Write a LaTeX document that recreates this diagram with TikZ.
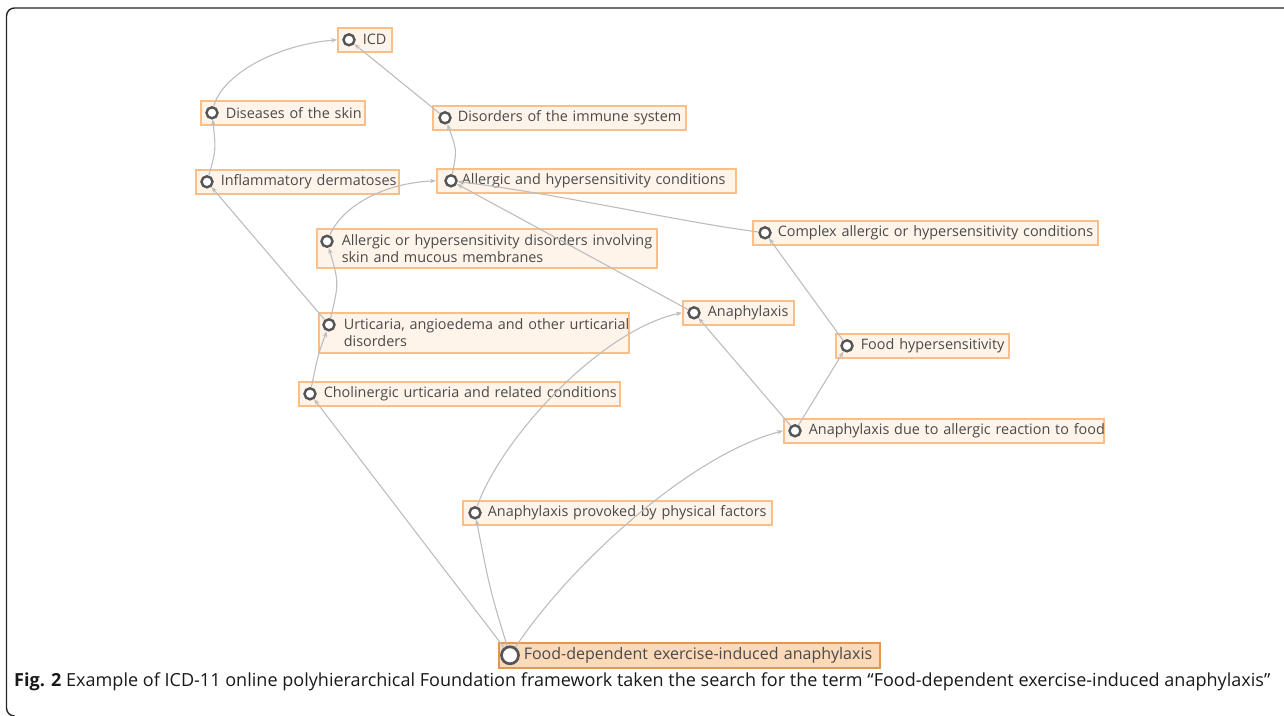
\documentclass[tikz,border=0pt]{standalone}
\usepackage{fontspec}
\setmainfont{Open Sans}
\usetikzlibrary{arrows.meta}
\definecolor{boxfill}{HTML}{FEF4EA}
\definecolor{boxdraw}{HTML}{FBBE86}
\definecolor{mainfill}{HTML}{FCD9B8}
\definecolor{maindraw}{HTML}{E4974E}
\definecolor{edgecol}{HTML}{BDBDBD}
\definecolor{ringcol}{HTML}{555555}
\definecolor{txt}{HTML}{4A4A4A}
\newcommand\boxline[1]{\hspace*{25pt}\mbox{#1}}
\begin{document}
\begin{tikzpicture}[x=1pt,y=-1pt,
  box/.style={draw=boxdraw, fill=boxfill, line width=1.6pt, anchor=north west,
    minimum height=24pt, inner xsep=0pt, inner ysep=2pt, align=left, text=txt,
    font=\fontsize{14.4}{17}\selectfont},
  mainbox/.style={box, draw=maindraw, fill=mainfill, minimum height=25pt,
    font=\fontsize{16}{19}\selectfont},
  ring/.style={circle, draw=ringcol, fill=white, line width=2.4pt, minimum size=11pt, inner sep=0pt},
  bigring/.style={ring, line width=2.7pt, minimum size=17pt},
  edge/.style={draw=edgecol, line width=1.1pt, -{Stealth[length=6pt,width=4.5pt]}},
  frame/.style={draw=black!85, line width=1.4pt, rounded corners=8pt}
]
\useasboundingbox (0,0) rectangle (1284,715);
\path[frame] (1290,8) -- (6.5,8) -- (6.5,716) -- (14.5,716);

% boxes
\node[box, text width=54pt]  (icd)  at (337,27)  {\boxline{ICD}};
\node[box, text width=164pt] (dis)  at (200,100) {\boxline{Diseases of the skin}};
\node[box, text width=253pt] (imm)  at (432,105) {\boxline{Disorders of the immune system}};
\node[box, text width=203pt] (infl) at (195,169) {\boxline{Inflammatory dermatoses}};
\node[box, text width=299pt] (allc) at (436,168) {\boxline{Allergic and hypersensitivity conditions}};
\node[box, text width=345pt] (cx)   at (752,220) {\boxline{Complex allergic or hypersensitivity conditions}};
\node[box, text width=340pt, minimum height=39pt] (smm) at (316,228)
  {\boxline{Allergic or hypersensitivity disorders involving}\\\boxline{skin and mucous membranes}};
\node[box, text width=111pt] (anx)  at (682,300) {\boxline{Anaphylaxis}};
\node[box, text width=310pt, minimum height=40pt] (urt) at (318,312)
  {\boxline{Urticaria, angioedema and other urticarial}\\\boxline{disorders}};
\node[box, text width=173pt] (fh)   at (835,333) {\boxline{Food hypersensitivity}};
\node[box, text width=321pt] (chol) at (298,381) {\boxline{Cholinergic urticaria and related conditions}};
\node[box, text width=320pt] (anf)  at (783,418) {\boxline{Anaphylaxis due to allergic reaction to food}};
\node[box, text width=309pt] (apf)  at (462,500) {\boxline{Anaphylaxis provoked by physical factors}};
\node[mainbox, text width=381pt] (fdea) at (498,642) {\boxline{Food-dependent exercise-induced anaphylaxis}};

% rings
\node[ring] (c-icd)  at ([xshift=12pt]icd.west) {};
\node[ring] (c-dis)  at ([xshift=12pt]dis.west) {};
\node[ring] (c-imm)  at ([xshift=13pt]imm.west) {};
\node[ring] (c-infl) at ([xshift=12pt]infl.west) {};
\node[ring] (c-allc) at ([xshift=15pt]allc.west) {};
\node[ring] (c-cx)   at ([xshift=13pt]cx.west) {};
\node[ring] (c-smm)  at ([xshift=11pt,yshift=7pt]smm.west) {};
\node[ring] (c-anx)  at ([xshift=12pt]anx.west) {};
\node[ring] (c-urt)  at ([xshift=11pt,yshift=8pt]urt.west) {};
\node[ring] (c-fh)   at ([xshift=12pt]fh.west) {};
\node[ring] (c-chol) at ([xshift=12pt]chol.west) {};
\node[ring] (c-anf)  at ([xshift=12pt]anf.west) {};
\node[ring] (c-apf)  at ([xshift=13pt]apf.west) {};
\node[bigring] (c-fdea) at ([xshift=12pt]fdea.west) {};

% edges
\draw[edge] (c-dis) .. controls (222,75) and (275,45) .. (icd.west);
\draw[edge] (c-infl) .. controls (216,150) .. (c-dis);
\draw[edge] (c-imm) -- (c-icd);
\draw[edge] (c-allc) .. controls (457,150) .. (c-imm);
\draw[edge] (c-smm) .. controls (343,205) and (385,183) .. (allc.west);
\draw[edge] (c-urt) -- (c-infl);
\draw[edge] (c-urt) .. controls (339,283) .. (c-smm);
\draw[edge] (c-chol) .. controls (318,355) .. (c-urt);
\draw[edge] (c-anx) -- (c-allc);
\draw[edge] (c-cx) .. controls (680,222) and (560,194) .. (c-allc);
\draw[edge] (c-fh) -- (c-cx);
\draw[edge] (c-anf) -- (c-anx);
\draw[edge] (c-anf) -- (c-fh);
\draw[edge] (c-apf) .. controls (500,440) and (600,330) .. (anx.west);
\draw[edge] (c-fdea) -- (c-chol);
\draw[edge] (c-fdea) .. controls (490,590) .. (c-apf);
\draw[edge] (c-fdea) .. controls (570,565) and (690,455) .. (anf.west);

% caption
\node[anchor=base west, inner sep=0pt, text=black!90] (cap) at (14,686)
  {\resizebox{1256pt}{!}{\fontsize{17}{20}\selectfont\textbf{Fig. 2} Example of ICD-11 online polyhierarchical Foundation framework taken the search for the term “Food-dependent exercise-induced anaphylaxis”}};
\end{tikzpicture}
\end{document}
